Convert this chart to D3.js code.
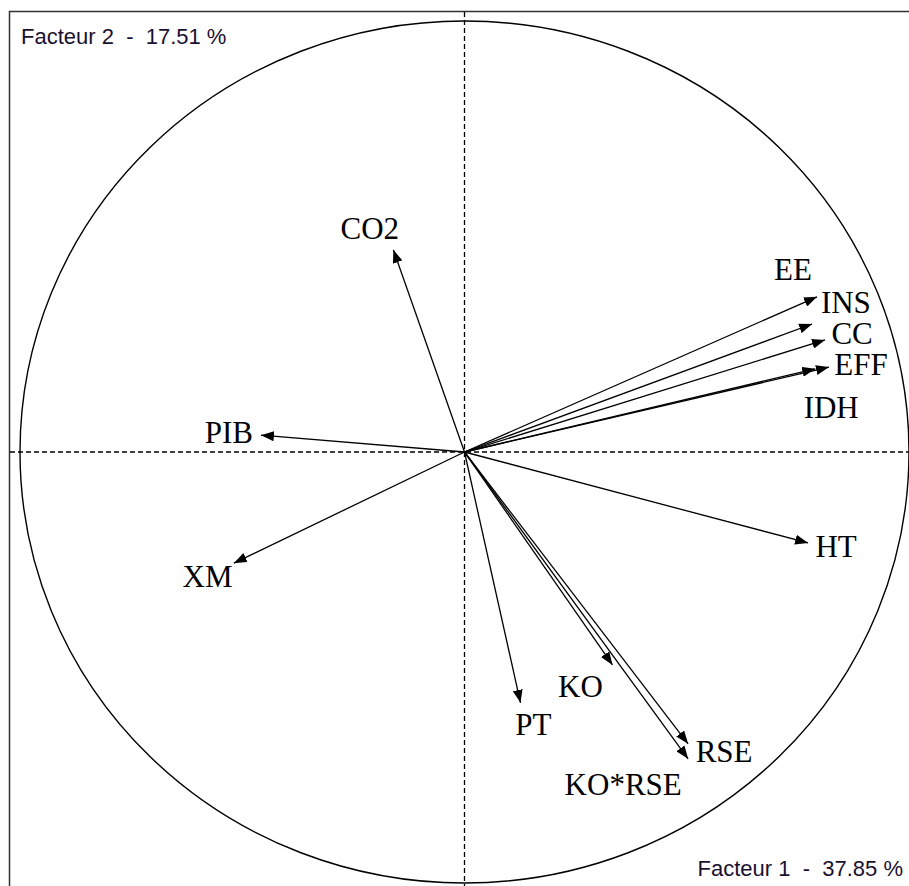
<!DOCTYPE html>
<html>
<head>
<meta charset="utf-8">
<script src="https://cdn.jsdelivr.net/npm/d3@7"></script>
<style>
  body { margin: 0; background: #fff; }
  svg { display: block; }
  .var-label { font-family: "Liberation Serif", "Times New Roman", serif; font-size: 31px; fill: #000; }
  .axis-title { font-family: "Liberation Sans", Arial, sans-serif; font-size: 22px; fill: #1a1030; white-space: pre; }
</style>
</head>
<body>
<svg width="909" height="886"></svg>
<script>
// variable loadings on the two factors
const variables = ["CO2", "PIB", "XM", "EE", "INS", "CC", "EFF", "IDH", "HT", "PT", "KO", "RSE", "KO*RSE"];
const factor1 = [-0.160, -0.458, -0.519, 0.793, 0.782, 0.811, 0.820, 0.789, 0.773, 0.126, 0.333, 0.503, 0.503];
const factor2 = [0.469, 0.039, -0.258, 0.360, 0.297, 0.260, 0.197, 0.193, -0.211, -0.582, -0.494, -0.677, -0.712];
// where each name sits, in the same factor units
const labelF1 = [-0.213, -0.530, -0.578, 0.739, 0.858, 0.872, 0.892, 0.825, 0.836, 0.155, 0.261, 0.584, 0.357];
const labelF2 = [0.494, 0.021, -0.313, 0.399, 0.323, 0.251, 0.179, 0.079, -0.244, -0.657, -0.568, -0.719, -0.796];
const axisTitles = ["Facteur 1  -  37.85 %", "Facteur 2  -  17.51 %"];

const svg = d3.select("svg");
const width = +svg.attr("width");
const height = +svg.attr("height");
const center = { x: 464.5, y: 452 };
const radius = { x: 444.5, y: 431 };

const xScale = d3.scaleLinear().domain([-1, 1]).range([center.x - radius.x, center.x + radius.x]);
const yScale = d3.scaleLinear().domain([-1, 1]).range([center.y + radius.y, center.y - radius.y]);

svg.append("defs")
  .append("marker")
  .attr("id", "head")
  .attr("viewBox", "0 0 13 10")
  .attr("refX", 13)
  .attr("refY", 5)
  .attr("markerUnits", "userSpaceOnUse")
  .attr("markerWidth", 13)
  .attr("markerHeight", 10)
  .attr("orient", "auto")
  .append("path")
  .attr("d", "M0,0 L13,5 L0,10 Z")
  .attr("fill", "#000");

// frame
svg.append("rect")
  .attr("x", 9.5)
  .attr("y", 11.5)
  .attr("width", width + 10)
  .attr("height", height + 10)
  .attr("fill", "none")
  .attr("stroke", "#333")
  .attr("stroke-width", 1.5);

// axes through the origin
svg.append("line")
  .attr("x1", 10).attr("x2", width)
  .attr("y1", yScale(0)).attr("y2", yScale(0))
  .attr("stroke", "#000").attr("stroke-dasharray", "5,3").attr("stroke-width", 1.3);
svg.append("line")
  .attr("x1", xScale(0)).attr("x2", xScale(0))
  .attr("y1", 12).attr("y2", height)
  .attr("stroke", "#000").attr("stroke-dasharray", "5,3").attr("stroke-width", 1.3);

// unit circle
svg.append("ellipse")
  .attr("cx", xScale(0))
  .attr("cy", yScale(0))
  .attr("rx", xScale(1) - xScale(0))
  .attr("ry", yScale(0) - yScale(1))
  .attr("fill", "none")
  .attr("stroke", "#000")
  .attr("stroke-width", 1.4);

const data = variables.map((name, i) => ({
  name,
  f1: factor1[i],
  f2: factor2[i],
  lx: labelF1[i],
  ly: labelF2[i],
}));

svg.append("g")
  .selectAll("line")
  .data(data)
  .join("line")
  .attr("x1", xScale(0))
  .attr("y1", yScale(0))
  .attr("x2", (d) => xScale(d.f1))
  .attr("y2", (d) => yScale(d.f2))
  .attr("stroke", "#000")
  .attr("stroke-width", 1.3)
  .attr("marker-end", "url(#head)");

svg.append("g")
  .selectAll("text")
  .data(data)
  .join("text")
  .attr("class", "var-label")
  .attr("x", (d) => xScale(d.lx))
  .attr("y", (d) => yScale(d.ly))
  .attr("text-anchor", "middle")
  .text((d) => d.name);

svg.append("text")
  .attr("class", "axis-title")
  .attr("x", 21)
  .attr("y", 44)
  .text(axisTitles[1]);
svg.append("text")
  .attr("class", "axis-title")
  .attr("x", 903)
  .attr("y", 876)
  .attr("text-anchor", "end")
  .text(axisTitles[0]);
</script>
</body>
</html>
